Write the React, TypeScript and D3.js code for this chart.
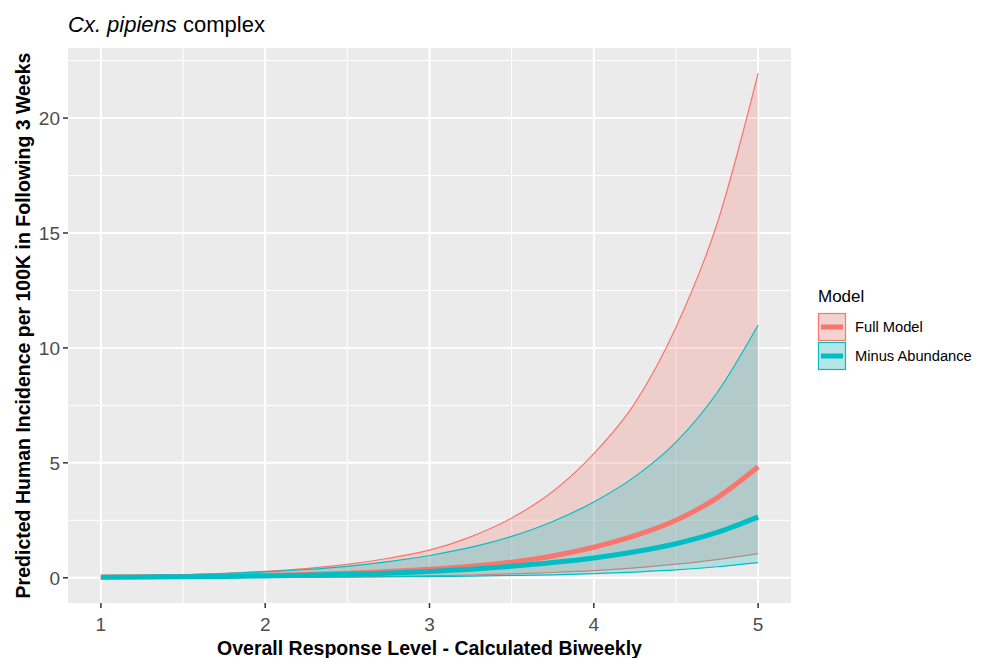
import React from 'react';
import * as d3 from 'd3';

// x = overall response level, sampled every 0.25
const levels = [1, 1.25, 1.5, 1.75, 2, 2.25, 2.5, 2.75, 3, 3.25, 3.5, 3.75, 4, 4.25, 4.5, 4.75, 5];

const fullMean = [0.03, 0.04, 0.055, 0.075, 0.1, 0.14, 0.2, 0.27, 0.37, 0.5, 0.68, 0.95, 1.33, 1.83, 2.5, 3.48, 4.83];
const fullUpper = [0.06, 0.09, 0.13, 0.19, 0.28, 0.4, 0.58, 0.85, 1.2, 1.78, 2.6, 3.75, 5.4, 7.6, 10.9, 15.4, 21.95];
const fullLower = [0.007, 0.01, 0.013, 0.018, 0.025, 0.035, 0.048, 0.065, 0.09, 0.12, 0.17, 0.23, 0.31, 0.43, 0.59, 0.79, 1.05];

const minusMean = [0.025, 0.035, 0.045, 0.06, 0.08, 0.11, 0.15, 0.2, 0.27, 0.37, 0.5, 0.66, 0.86, 1.13, 1.48, 1.97, 2.65];
const minusUpper = [0.065, 0.09, 0.13, 0.18, 0.26, 0.36, 0.5, 0.7, 0.97, 1.32, 1.8, 2.45, 3.3, 4.4, 5.9, 8.05, 11.0];
const minusLower = [0.004, 0.005, 0.007, 0.01, 0.013, 0.018, 0.025, 0.035, 0.05, 0.07, 0.1, 0.13, 0.18, 0.25, 0.34, 0.48, 0.66];

const xTicks = [1, 2, 3, 4, 5];
const xMinor = [1.5, 2.5, 3.5, 4.5];
const yTicks = [0, 5, 10, 15, 20];
const yMinor = [2.5, 7.5, 12.5, 17.5, 22.5];

const seriesNames = ['Full Model', 'Minus Abundance'];
const seriesColors = ['#F8766D', '#00BFC4'];

const W = 988;
const H = 658;
const FONT = '"Liberation Sans", Arial, sans-serif';

export default function App() {
  const panel = { left: 68, top: 48, right: 791, bottom: 603 };

  const x = d3.scaleLinear().domain([0.8, 5.2]).range([panel.left, panel.right]);
  const yMax = 21.95;
  const yExp = yMax * 0.05;
  const y = d3.scaleLinear().domain([-yExp, yMax + yExp]).range([panel.bottom, panel.top]);

  const series = [
    { mean: fullMean, upper: fullUpper, lower: fullLower },
    { mean: minusMean, upper: minusUpper, lower: minusLower },
  ];

  const area = d3.area<number>()
    .x((_, i) => x(levels[i]))
    .curve(d3.curveMonotoneX);

  const line = d3.line<number>()
    .x((_, i) => x(levels[i]))
    .y((d) => y(d))
    .curve(d3.curveMonotoneX);

  const ribbonPath = (s: typeof series[0]) =>
    area.y0((_, i) => y(s.lower[i])).y1((_, i) => y(s.upper[i]))(s.mean) || '';

  const legendX = 818;
  const legendY = 313;
  const keySize = 28;

  return (
    <svg width={W} height={H} style={{ position: 'absolute', left: 0, top: 0, background: '#fff' }} fontFamily={FONT}>
      {/* title */}
      <text x={68} y={32} fontSize={22} fill="#000">
        <tspan fontStyle="italic">Cx. pipiens</tspan>
        <tspan> complex</tspan>
      </text>

      {/* panel */}
      <rect x={panel.left} y={panel.top} width={panel.right - panel.left} height={panel.bottom - panel.top} fill="#EBEBEB" />
      {xMinor.map((t) => (
        <line key={'xm' + t} x1={x(t)} x2={x(t)} y1={panel.top} y2={panel.bottom} stroke="#fff" strokeWidth={1} />
      ))}
      {yMinor.map((t) => (
        <line key={'ym' + t} x1={panel.left} x2={panel.right} y1={y(t)} y2={y(t)} stroke="#fff" strokeWidth={1} />
      ))}
      {xTicks.map((t) => (
        <line key={'xM' + t} x1={x(t)} x2={x(t)} y1={panel.top} y2={panel.bottom} stroke="#fff" strokeWidth={2} />
      ))}
      {yTicks.map((t) => (
        <line key={'yM' + t} x1={panel.left} x2={panel.right} y1={y(t)} y2={y(t)} stroke="#fff" strokeWidth={2} />
      ))}

      {/* ribbons */}
      {series.map((s, k) => (
        <g key={'rib' + k}>
          <path d={ribbonPath(s)} fill={seriesColors[k]} fillOpacity={0.25} stroke="none" />
          <path d={line(s.upper) || ''} fill="none" stroke={seriesColors[k]} strokeWidth={1.2} />
          <path d={line(s.lower) || ''} fill="none" stroke={seriesColors[k]} strokeWidth={1.2} />
        </g>
      ))}
      {/* mean lines */}
      {series.map((s, k) => (
        <path key={'mean' + k} d={line(s.mean) || ''} fill="none" stroke={seriesColors[k]} strokeWidth={5} />
      ))}

      {/* axes */}
      {xTicks.map((t) => (
        <g key={'xt' + t}>
          <line x1={x(t)} x2={x(t)} y1={panel.bottom} y2={panel.bottom + 5} stroke="#333" strokeWidth={1.5} />
          <text x={x(t)} y={panel.bottom + 28} textAnchor="middle" fontSize={19} fill="#4D4D4D">{t}</text>
        </g>
      ))}
      {yTicks.map((t) => (
        <g key={'yt' + t}>
          <line x1={panel.left - 5} x2={panel.left} y1={y(t)} y2={y(t)} stroke="#333" strokeWidth={1.5} />
          <text x={panel.left - 8} y={y(t)} dy="0.36em" textAnchor="end" fontSize={19} fill="#4D4D4D">{t}</text>
        </g>
      ))}
      <text x={(panel.left + panel.right) / 2} y={655} textAnchor="middle" fontSize={19.5} fontWeight="bold" fill="#000">
        Overall Response Level - Calculated Biweekly
      </text>
      <text
        transform={`translate(30,${(panel.top + panel.bottom) / 2}) rotate(-90)`}
        textAnchor="middle"
        fontSize={19.5}
        fontWeight="bold"
        fill="#000"
      >
        Predicted Human Incidence per 100K in Following 3 Weeks
      </text>

      {/* legend */}
      <text x={legendX} y={302} fontSize={17} fill="#000">Model</text>
      {seriesNames.map((name, k) => {
        const ky = legendY + k * (keySize + 1);
        return (
          <g key={'lg' + k}>
            <rect x={legendX} y={ky} width={keySize} height={keySize} fill="#F2F2F2" />
            <rect x={legendX + 0.5} y={ky + 0.5} width={keySize - 1} height={keySize - 1}
              fill={seriesColors[k]} fillOpacity={0.25} stroke={seriesColors[k]} strokeWidth={1.2} />
            <line x1={legendX + 3} x2={legendX + keySize - 3} y1={ky + keySize / 2} y2={ky + keySize / 2}
              stroke={seriesColors[k]} strokeWidth={5} />
            <text x={legendX + keySize + 9} y={ky + keySize / 2} dy="0.36em" fontSize={14.7} fill="#000">{name}</text>
          </g>
        );
      })}
    </svg>
  );
}
